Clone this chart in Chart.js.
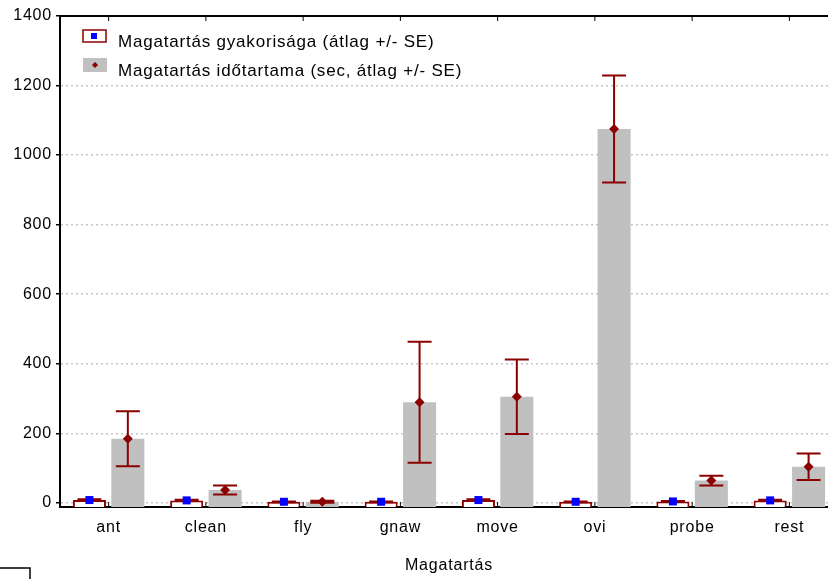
<!DOCTYPE html>
<html>
<head>
<meta charset="utf-8">
<script src="https://cdn.jsdelivr.net/npm/chart.js@4.4.0/dist/chart.umd.min.js"></script>
<style>
    html, body { margin: 0; padding: 0; background: #fff; overflow: hidden; }
    #wrap { width: 840px; height: 579px; }
</style>
</head>
<body>
<div id="wrap"><canvas id="behaviourChart"></canvas></div>
<script>
// Data
const categories = ['ant', 'clean', 'fly', 'gnaw', 'move', 'ovi', 'probe', 'rest'];
const freqMean = [8, 7, 3, 3, 8, 3, 4, 7];
const freqSE = [2, 2, 1, 1, 2, 1, 1, 2];
const durMean = [184, 37, 3, 289, 305, 1075, 64, 104];
const durSE = [79, 13, 3, 174, 107, 154, 14, 38];
const yTicks = [0, 200, 400, 600, 800, 1000, 1200, 1400];

const Y_MIN = -12;
const Y_MAX = 1400;
const DARK_RED = '#8b0000';
const FONT = '"Liberation Sans", Arial, sans-serif';

// the original text is set a bit looser than plain Arial
const spacingPlugin = {
    id: 'spacing',
    beforeDraw(chart) {
        chart.ctx.letterSpacing = '0.8px';
    }
};

// error bars, markers, legend and frame extras
const extrasPlugin = {
    id: 'extras',
    afterDatasetsDraw(chart) {
        const ctx = chart.ctx;
        const y = chart.scales.y;
        const area = chart.chartArea;

        // top frame line
        ctx.save();
        ctx.strokeStyle = '#000';
        ctx.lineWidth = 2;
        ctx.beginPath();
        ctx.moveTo(area.left, area.top);
        ctx.lineTo(area.right, area.top);
        ctx.stroke();

        // small category ticks on top and bottom
        const xScale = chart.scales.x;
        ctx.lineWidth = 1;
        categories.forEach((c, i) => {
            const cx = xScale.getPixelForValue(i);
            ctx.beginPath();
            ctx.moveTo(cx, area.top);
            ctx.lineTo(cx, area.top + 5);
            ctx.moveTo(cx, area.bottom);
            ctx.lineTo(cx, area.bottom - 5);
            ctx.stroke();
        });

        const series = [
            { mean: freqMean, se: freqSE, marker: 'square' },
            { mean: durMean, se: durSE, marker: 'diamond' }
        ];

        series.forEach((s, di) => {
            const meta = chart.getDatasetMeta(di);
            meta.data.forEach((bar, i) => {
                const cx = bar.x;
                const yMid = y.getPixelForValue(s.mean[i]);
                const yHi = y.getPixelForValue(s.mean[i] + s.se[i]);
                const yLo = y.getPixelForValue(Math.max(s.mean[i] - s.se[i], 0));

                ctx.strokeStyle = DARK_RED;
                ctx.lineWidth = 2;
                ctx.beginPath();
                ctx.moveTo(cx, yHi);
                ctx.lineTo(cx, yLo);
                ctx.moveTo(cx - 12, yHi);
                ctx.lineTo(cx + 12, yHi);
                ctx.moveTo(cx - 12, yLo);
                ctx.lineTo(cx + 12, yLo);
                ctx.stroke();

                if (s.marker === 'square') {
                    ctx.fillStyle = '#0000ff';
                    ctx.fillRect(cx - 4, yMid - 4, 8, 8);
                } else {
                    ctx.fillStyle = DARK_RED;
                    ctx.beginPath();
                    ctx.moveTo(cx, yMid - 5);
                    ctx.lineTo(cx + 5, yMid);
                    ctx.lineTo(cx, yMid + 5);
                    ctx.lineTo(cx - 5, yMid);
                    ctx.closePath();
                    ctx.fill();
                }
            });
        });

        // legend inside the plot, top left
        const lx = 83;
        const rows = [36, 65];
        ctx.font = '17px ' + FONT;
        ctx.letterSpacing = '0.8px';
        ctx.textBaseline = 'middle';
        ctx.textAlign = 'left';
        chart.data.datasets.forEach((ds, i) => {
            const ry = rows[i];
            if (i === 0) {
                ctx.fillStyle = '#fff';
                ctx.fillRect(lx, ry - 6, 23, 12);
                ctx.strokeStyle = DARK_RED;
                ctx.lineWidth = 1.5;
                ctx.strokeRect(lx, ry - 6, 23, 12);
                ctx.fillStyle = '#0000ff';
                ctx.fillRect(lx + 8, ry - 3, 6, 6);
            } else {
                ctx.fillStyle = '#c0c0c0';
                ctx.fillRect(lx, ry - 7, 24, 14);
                ctx.fillStyle = DARK_RED;
                ctx.beginPath();
                ctx.moveTo(lx + 12, ry - 3);
                ctx.lineTo(lx + 15, ry);
                ctx.lineTo(lx + 12, ry + 3);
                ctx.lineTo(lx + 9, ry);
                ctx.closePath();
                ctx.fill();
            }
            ctx.fillStyle = '#000';
            ctx.fillText(ds.label, 118, ry + 6);
        });

        // cropped box in the bottom-left corner
        ctx.strokeStyle = '#000';
        ctx.lineWidth = 1.5;
        ctx.beginPath();
        ctx.moveTo(0, 568);
        ctx.lineTo(30, 568);
        ctx.lineTo(30, 580);
        ctx.stroke();
        ctx.restore();
    }
};

new Chart(document.getElementById('behaviourChart'), {
    type: 'bar',
    data: {
        labels: categories,
        datasets: [{
            label: 'Magatartás gyakorisága (átlag +/- SE)',
            data: freqMean,
            backgroundColor: '#ffffff',
            borderColor: DARK_RED,
            borderWidth: 2,
            borderSkipped: 'bottom',
            base: Y_MIN
        }, {
            label: 'Magatartás időtartama (sec, átlag +/- SE)',
            data: durMean,
            backgroundColor: '#c0c0c0',
            borderWidth: 0,
            base: Y_MIN
        }]
    },
    options: {
        responsive: true,
        maintainAspectRatio: false,
        animation: false,
        devicePixelRatio: 1,
        categoryPercentage: 0.79,
        barPercentage: 0.86,
        layout: { padding: { top: 16, right: 2, left: 0, bottom: 0 } },
        plugins: {
            legend: { display: false },
            tooltip: { enabled: false }
        },
        scales: {
            x: {
                grid: { display: false },
                border: { color: '#000', width: 2 },
                ticks: {
                    color: '#000',
                    font: { family: FONT, size: 16 },
                    padding: 3
                },
                title: {
                    display: true,
                    text: 'Magatartás',
                    color: '#000',
                    font: { family: FONT, size: 16 },
                    padding: { top: 16 }
                },
                afterFit(scale) { scale.height = 72; }
            },
            y: {
                min: Y_MIN,
                max: Y_MAX,
                afterBuildTicks(scale) {
                    scale.ticks = yTicks.map(v => ({ value: v }));
                },
                grid: {
                    color: '#c4c4c4',
                    lineWidth: 1.5,
                    tickColor: '#000',
                    tickLength: 4,
                    tickBorderDash: []
                },
                border: { color: '#000', width: 2, dash: [2, 3] },
                ticks: {
                    color: '#000',
                    font: { family: FONT, size: 16 },
                    padding: 4,
                    callback: v => String(v)
                },
                afterFit(scale) { scale.width = 60; }
            }
        }
    },
    plugins: [spacingPlugin, extrasPlugin]
});
</script>
</body>
</html>
